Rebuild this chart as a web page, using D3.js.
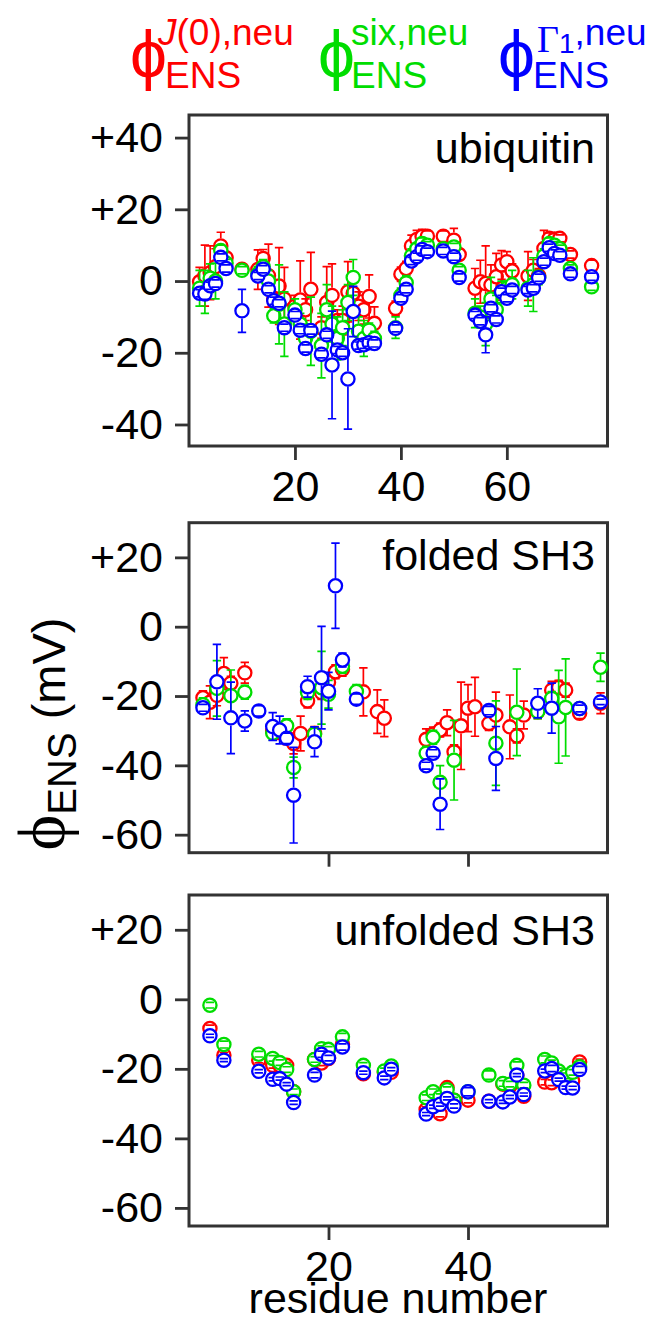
<!DOCTYPE html>
<html>
<head>
<meta charset="utf-8">
<script src="https://cdn.jsdelivr.net/npm/d3@7"></script>
<style>
  body { margin: 0; background: #fff; }
  text { font-family: "Liberation Sans", Arial, Helvetica, sans-serif; }
</style>
</head>
<body>
<svg id="chart"></svg>
<script>
// ---- ubiquitin ----
const ubqRes = [2,3,4,5,6,7,10,13,14,15,16,17,18,20,21,22,23,25,26,27,28,29,30,31,32,33,34,35,39,40,41,42,43,44,45,48,50,51,54,55,56,57,58,59,60,61,64,65,66,67,68,69,70,72,76];
const ubqJ0 = [-0.2,1.5,2.3,4,9.8,6.5,3.3,3.2,6.3,1.5,-5,-1.4,-5,-7,-5.3,-8,-2.3,-13,-6,-4,-11,-11,-3,-3.4,-7,-8,-4.3,-11.8,-7.6,1.9,3.5,9.8,11.6,12.4,12.5,12.5,11.4,7.4,-2,-0.2,-0.7,-1.1,1.2,4.5,5.4,2.8,1.4,3,1.5,9.1,11.9,11.7,11.9,7.4,4.3];
const ubqJ0Err = [4,8.5,7.5,5,3.8,1.5,1.5,5.5,2.5,8.8,2,10.7,8.8,3,10.9,3,10.3,3,10,8.8,3,4,8.4,3,4,4,6,4.6,2,2,2,3,2.5,2,1.5,1.5,3.3,1.5,5.5,6,10.5,5.6,6.5,4,2.8,2,6.8,3,2,5,1.5,1.5,1,1,1.5];
const ubqSix = [-2,-3,0.8,0,8.5,5,3,2,4,0,-9.7,-6.5,-12,-8,-12,-16,-14,-18,-8,-12,-16,-13,-6,1,-14,-16,-13.7,-16,-13,-4,-0.5,7,9,10.5,10,9,9.5,3,-9,-10,-12,-5,-8,-3,-2,-1,-2,-1,1,7,10.5,10,9,3.5,-1.6];
const ubqSixErr = [5,6,4,5,1.5,1,1,2,2,3,2,11,9,3,3,4,9.5,9,7,5,6,5,5,5,4,5,2,2,3,2,2,2,1.5,1.5,1,1,1,1,4,3,6,6,4,3,2,4,5,7.5,2,2,1.5,1,1,1,1];
const ubqG1 = [-3.4,-3.6,-1.3,-0.7,6.6,3.5,-8.3,1.4,3.3,-2.3,-5.5,-6.2,-13,-9.5,-13.7,-18.8,-13.8,-20.4,-15,-23.4,-19.2,-20,-27.3,-8.5,-18,-17.8,-17.2,-17.4,-13.2,-4.8,-2.3,5.6,6.8,8.8,8.2,8.4,6.8,1.0,-9.5,-11.2,-15,-7.6,-10.7,-3,-4.8,-2.5,-2.5,-2,0.9,5.4,9.3,7.7,7.2,2,1.2];
const ubqG1Err = [1,1.5,1,1,1,1,6,1,1,1,1,1,1,1,1,1,1,1,1,15,1,1,14,7,1,1,1,1,1,1,1,1,1,1,1,1,1,1,1,1,5,1,1,1,1,1,1,1,1,1,1,1,1,1,1];

// ---- folded SH3 ----
const fRes = [2,3,4,5,6,8,10,12,13,14,15,16,17,18,19,20,21,22,24,25,27,28,34,35,36,37,38,39,40,41,43,44,46,47,48,50,52,53,54,56,59];
const fJ0 = [-20.5,-21.8,-19.8,-13.5,-16.3,-13.3,null,-30,-30.5,-32,-33.7,-30.8,-21.4,-30.8,-19,-16,-13,-12.3,null,-18.8,-24.5,-26.4,-32.5,-31,-29.8,-27.7,-36.1,-28.6,-23.5,-23.1,-27.9,-25.5,-28.9,-31.5,-25.5,-24.5,-18.3,-17.5,-18.3,-25,-22.1];
const fJ0Err = [2,4.7,3,4.6,2,3,null,2,2,2,3,5,2,2,2,2,2,2,null,6.9,6.3,5.3,3,2,2,3.7,2,12.6,6.8,8.5,2,6.6,9.2,2,4,2,2.5,2,2,1.5,3];
const fSix = [-22.5,null,-17.8,null,-19.9,-18.9,null,-30.7,null,-28.6,-40.6,null,-19,-31,-17.6,-19.5,null,-11.4,-18.7,null,null,null,-36.5,-31.9,-44.9,null,-38.5,null,null,null,null,-33.6,null,-24.7,null,-24.5,-20.7,-26,-23.3,-23.6,-11.7];
const fSixErr = [2,null,8,null,7.4,2,null,2,null,2,3,null,2,2,10.5,4,null,2,2,null,null,null,2,2,4.8,null,11.5,null,null,null,null,12.2,null,12.5,null,2,2,13.4,14,1.5,4.1];
const fG1 = [-23.4,null,-15.9,null,-26.3,-27.2,-24.3,-28.8,-29.8,-32.2,-48.6,null,-17.3,-33.2,-14.7,-18.6,11.8,-9.6,-20.9,null,null,null,-40.1,-36.5,-51.2,null,null,null,null,null,-24.2,-38,null,null,null,-22.1,-23.5,null,null,-23.6,-21.7];
const fG1Err = [1,null,10.8,null,10.3,2.9,1.5,4,4,1.5,13.8,null,3,4.3,14.8,5.4,12.3,2,1.5,null,null,null,1,1,7.3,null,null,null,null,null,1.2,9.2,null,null,null,4.2,7.2,null,null,1,0.8];

// ---- unfolded SH3 ----
const uRes = [3,5,10,12,13,14,15,18,19,20,22,25,28,29,34,35,36,37,38,40,43,45,46,47,48,51,52,53,54,55,56];
const uJ0 = [-8.4,-16.1,-17.5,-19,-19,-19,-26.6,-17.3,-18.3,-17,-12.9,-21.4,-21,-21,-31.7,-30,-32.9,-25.4,-29,-29,-29.3,-24.4,-25,-22,-27.9,-23.8,-24,-22,-23.5,-23.5,-18];
const uJ0Err = [1,0.8,0.8,0.8,0.8,0.9,0.8,0.8,0.8,0.8,0.8,0.8,0.8,0.8,0.8,0.8,0.9,0.8,0.8,0.8,0.8,0.8,0.8,0.8,0.8,0.8,0.8,0.8,0.8,0.8,0.8];
const uSix = [-1.7,-13,-15.8,-17,-18.2,-20.2,-26.6,-17.3,-14.2,-14.4,-10.8,-19,-20.6,-19.2,-28.3,-26.6,-28,-26,-29,-26.6,-21.8,-24.2,-24.4,-19,-24.7,-17.3,-18.3,-20.6,-22,-21,-19.4];
const uSixErr = [0.8,1,0.8,0.8,0.8,0.8,0.8,0.8,0.8,0.8,1,0.8,0.8,0.8,0.8,0.8,0.8,0.8,0.8,0.8,1.2,0.8,0.8,1,0.8,1,0.8,0.8,0.8,0.8,0.8];
const uG1 = [-10.5,-17.5,-20.7,-23,-22.8,-24.4,-29.7,-21.8,-15.8,-16.9,-13.7,-21.1,-22.6,-20.1,-33,-30.9,-30.2,-28.5,-30.7,-26.6,-29.3,-29.5,-28.1,-21.8,-27.4,-20.6,-19.9,-23.1,-25.4,-25.5,-20.2];
const uG1Err = [0.45,0.45,0.45,0.45,0.45,0.45,0.5,0.8,0.9,0.8,0.9,0.45,0.5,0.45,0.45,0.45,0.5,0.45,0.6,1.2,0.45,0.45,0.45,0.45,0.45,0.5,0.9,0.45,0.45,0.5,0.9];

const ubqYTicks = [40, 20, 0, -20, -40];
const sh3YTicks = [20, 0, -20, -40, -60];
const ubqXTicks = [20, 40, 60];
const sh3XTicks = [20, 40];

const red = "#ff0000", green = "#00dd00", blue = "#0000ff";

const width = 654, height = 1323;
const left = 189, right = 607.5;
const svg = d3.select("#chart").attr("width", width).attr("height", height);
const serif = "Liberation Serif, Times New Roman, serif";

const panels = [
  { label: "ubiquitin", res: ubqRes, top: 115, bottom: 446, xDomain: [0, 79], yDomain: [-46, 46.3],
    xTicks: ubqXTicks, yTicks: ubqYTicks, xLabels: true, labelY: 163,
    series: [[ubqJ0, ubqJ0Err, red], [ubqSix, ubqSixErr, green], [ubqG1, ubqG1Err, blue]] },
  { label: "folded SH3", res: fRes, top: 522.7, bottom: 852.7, xDomain: [0, 60], yDomain: [-65.2, 30],
    xTicks: sh3XTicks, yTicks: sh3YTicks, xLabels: false, labelY: 570,
    series: [[fJ0, fJ0Err, red], [fSix, fSixErr, green], [fG1, fG1Err, blue]] },
  { label: "unfolded SH3", res: uRes, top: 895, bottom: 1226, xDomain: [0, 60], yDomain: [-65.2, 30],
    xTicks: sh3XTicks, yTicks: sh3YTicks, xLabels: true, labelY: 945,
    series: [[uJ0, uJ0Err, red], [uSix, uSixErr, green], [uG1, uG1Err, blue]] }
];

const rad = 6.6, cap = 4.2;

panels.forEach(p => {
  const x = d3.scaleLinear().domain(p.xDomain).range([left, right]);
  const y = d3.scaleLinear().domain(p.yDomain).range([p.bottom, p.top]);
  const g = svg.append("g");

  // y axis
  const ya = g.append("g")
    .attr("transform", `translate(${left},0)`)
    .call(d3.axisLeft(y).tickValues(p.yTicks).tickSize(14).tickPadding(12)
      .tickFormat(d => d > 0 ? "+" + d : String(d)));
  // x axis
  const xa = g.append("g")
    .attr("transform", `translate(0,${p.bottom})`)
    .call(d3.axisBottom(x).tickValues(p.xTicks).tickSize(14).tickPadding(10)
      .tickFormat(d => p.xLabels ? d : ""));
  [ya, xa].forEach(a => {
    a.select(".domain").remove();
    a.selectAll(".tick line").attr("stroke", "#333").attr("stroke-width", 2.8);
    a.selectAll(".tick text").attr("font-size", 43).attr("fill", "#000")
      .attr("font-family", "Liberation Sans, Arial, sans-serif");
  });

  // frame
  g.append("rect")
    .attr("x", left).attr("y", p.top)
    .attr("width", right - left).attr("height", p.bottom - p.top)
    .attr("fill", "none").attr("stroke", "#333").attr("stroke-width", 3);

  g.append("text")
    .attr("x", 595).attr("y", p.labelY)
    .attr("text-anchor", "end").attr("font-size", 43)
    .text(p.label);

  // markers, drawn red -> green -> blue
  p.series.forEach(([vals, errs, col]) => {
    const pts = p.res.map((r, i) => ({ r, v: vals[i], e: errs[i] }))
      .filter(d => d.v !== null && d.v !== undefined);
    const sg = g.append("g");
    const m = sg.selectAll("g").data(pts).enter().append("g")
      .attr("transform", d => `translate(${x(d.r)},${y(d.v)})`);
    m.append("circle").attr("r", rad).attr("fill", "#fff")
      .attr("stroke", col).attr("stroke-width", 2.3);
    m.append("path")
      .attr("fill", "none").attr("stroke", col).attr("stroke-width", 1.7)
      .attr("d", d => {
        const up = y(d.v + d.e) - y(d.v), dn = y(d.v - d.e) - y(d.v);
        let s = `M${-cap},${up}H${cap}M${-cap},${dn}H${cap}`;
        if (up < -rad - 1) s += `M0,${up}V${-rad - 1}`;
        if (dn > rad + 1) s += `M0,${rad + 1}V${dn}`;
        return s;
      });
  });
});

// x axis title
svg.append("text")
  .attr("x", 398).attr("y", 1313)
  .attr("text-anchor", "middle").attr("font-size", 43)
  .text("residue number");

// y axis title
const yl = svg.append("text")
  .attr("transform", "translate(65,734) rotate(-90)")
  .attr("text-anchor", "middle");
yl.append("tspan").attr("font-family", serif)
  .attr("font-size", 68).text("ϕ");
yl.append("tspan").attr("font-size", 40).attr("dy", 11).text("ENS");
yl.append("tspan").attr("font-size", 47).attr("dy", -11).text(" (mV)");

// legend
const legend = [
  { col: red, phiX: 130, subX: 165, supX: 158, sup: "J(0),neu" },
  { col: green, phiX: 318, subX: 351, supX: 351, sup: "six,neu" },
  { col: blue, phiX: 498, subX: 533, supX: 537, sup: "G1,neu" }
];
legend.forEach(l => {
  svg.append("text").attr("x", l.phiX).attr("y", 77)
    .attr("font-family", serif)
    .attr("font-size", 66).attr("fill", l.col).text("ϕ");
  svg.append("text").attr("x", l.subX).attr("y", 88)
    .attr("font-size", 37).attr("fill", l.col).text("ENS");
  const t = svg.append("text").attr("x", l.supX).attr("y", 45)
    .attr("font-size", 37).attr("fill", l.col);
  if (l.sup === "J(0),neu") {
    t.append("tspan").attr("font-style", "italic").text("J");
    t.append("tspan").text("(0),neu");
  } else if (l.sup === "G1,neu") {
    t.append("tspan").attr("font-family", serif)
      .attr("font-size", 38).attr("dy", 7).text("Γ");
    t.append("tspan").attr("font-size", 28).attr("dy", 1).text("1");
    t.append("tspan").attr("dy", -8).text(",neu");
  } else {
    t.text(l.sup);
  }
});
</script>
</body>
</html>
